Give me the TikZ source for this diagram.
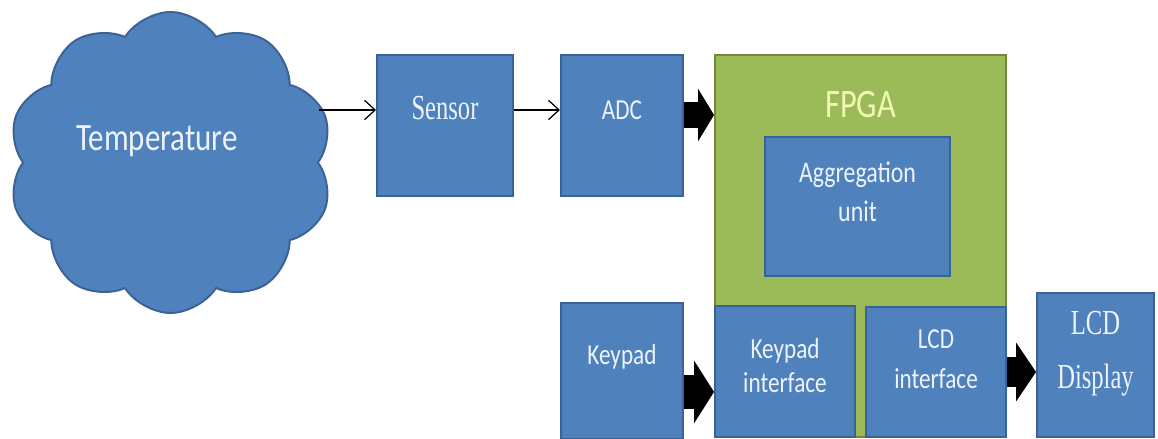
\documentclass[tikz,border=0pt]{standalone}
\usepackage{fontspec}
\setmainfont{Carlito}[FakeStretch=0.8]
\newfontfamily\narrowserif{Liberation Serif}[FakeStretch=0.7]
\usepackage{tikz}
\usetikzlibrary{arrows.meta,positioning,shapes.symbols}
\definecolor{boxblue}{HTML}{4F81BD}
\definecolor{boxedge}{HTML}{3B6294}
\definecolor{fpgagreen}{HTML}{9BBB59}
\definecolor{fpgaedge}{HTML}{71893F}
\definecolor{boxtext}{HTML}{EEF3FA}
\definecolor{fpgatext}{HTML}{F2F7B5}
\def\boxfont{\fontsize{16.5}{19.5}\selectfont}
\def\serifbox{\narrowserif\fontsize{20}{31}\selectfont}

\begin{document}
\begin{tikzpicture}[
    thin arrow/.style={draw=black,line width=0.7pt,-{Straight Barb[length=6pt,width=11pt]}},
    fat/.style n args={3}{draw=black,line width=#1,-{Triangle[width=#2,length=#3]}}]
    \tikzstyle{block}=[rectangle,draw=boxedge,fill=boxblue,line width=1.1pt,text=boxtext,align=center,font=\boxfont,inner sep=0pt]
    \tikzstyle{chip}=[rectangle,draw=fpgaedge,fill=fpgagreen,line width=1.1pt,inner sep=0pt]

    \useasboundingbox (0,0) rectangle (23.16,-8.78);

    % The measured quantity
    \node[cloud,cloud puffs=10,cloud puff arc=115,aspect=1.1,draw=boxedge,fill=boxblue,line width=1.1pt,
        minimum width=6.5cm,minimum height=6.02cm,
        label={[text=boxtext,font=\fontsize{22}{24}\selectfont,xshift=-0.27cm,yshift=0.42cm]center:Temperature}]
        (temp) at (3.41,-3.25) {};

    % Sensor and converter
    \node[block,minimum width=2.72cm,minimum height=2.82cm,font=\serifbox,text depth=0.72cm] (sensor) at (8.90,-2.51) {Sensor};
    \node[block,minimum width=2.44cm,minimum height=2.82cm,text depth=0.62cm,right=0.92cm of sensor] (adc) {ADC};
    \node[block,minimum width=2.44cm,minimum height=2.72cm,text depth=0.65cm,below=2.1cm of adc] (keypad) {Keypad};

    % The FPGA and its units
    \node[chip,minimum width=5.82cm,minimum height=7.64cm,
        label={[anchor=center,yshift=-1.0cm,text=fpgatext,font=\fontsize{23}{26}\selectfont]north:FPGA}]
        (fpga) at (17.21,-4.92) {};
    \node[block,minimum width=3.70cm,minimum height=2.78cm,font=\fontsize{17}{22}\selectfont,text depth=0.6cm] (agg) at (17.15,-4.13) {Aggregation\\unit};
    \node[block,minimum width=2.80cm,minimum height=2.62cm,text depth=0.25cm] (kpif) at (15.70,-7.43) {Keypad\\interface};
    \node[block,minimum width=2.80cm,minimum height=2.60cm,font=\fontsize{16.5}{22.7}\selectfont,text depth=0.5cm] (lcdif) at (18.72,-7.44) {LCD\\interface};

    % The display
    \node[block,minimum width=2.34cm,minimum height=2.88cm,font=\serifbox,text depth=0.6cm] (lcd) at (21.91,-7.30) {LCD\\Display};

    % Connect the blocks
    \draw[thin arrow] ([yshift=0.31cm]sensor.west -| temp.east) -- ([yshift=0.31cm]sensor.west);
    \draw[thin arrow] ([yshift=0.31cm]sensor.east) -- ([yshift=0.31cm]adc.west);
    \draw[fat={0.52cm}{1.04cm}{0.32cm}] ([yshift=0.21cm]adc.east) -- ([yshift=0.21cm]adc.east -| fpga.west);
    \draw[fat={0.68cm}{1.24cm}{0.40cm}] ([yshift=-0.42cm]keypad.east) -- ([yshift=-0.42cm]keypad.east -| kpif.west);
    \draw[fat={0.60cm}{1.16cm}{0.40cm}] (lcdif.east) -- (lcdif.east -| lcd.west);
\end{tikzpicture}
\end{document}
